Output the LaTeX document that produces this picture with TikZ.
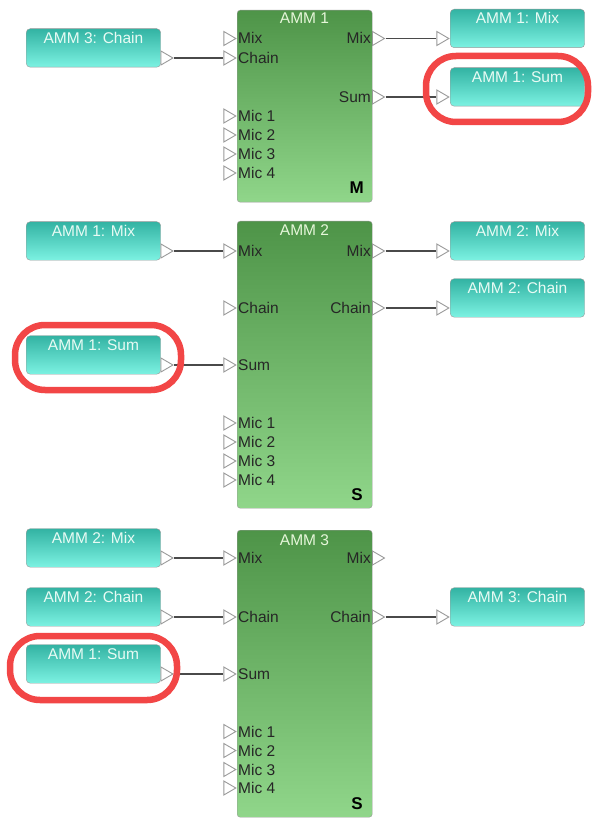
\documentclass[tikz,border=0pt]{standalone}
\usepackage{fontspec}
\setmainfont{Liberation Sans}
\usetikzlibrary{shapes.geometric}

\definecolor{ammtop}{HTML}{4E9448}
\definecolor{ammbot}{HTML}{90D68A}
\definecolor{ammtxt}{HTML}{E6F6DA}
\definecolor{srctop}{HTML}{33B3A3}
\definecolor{srcbot}{HTML}{7CF2E2}
\definecolor{srctxt}{HTML}{E8FBF4}
\definecolor{ringred}{HTML}{F24646}
\definecolor{portgray}{HTML}{9A9A9A}
\definecolor{wiregray}{HTML}{4A4A4A}

\newcommand*{\blkL}{237}
\newcommand*{\blkR}{372}
\newcommand*{\srcL}{26}
\newcommand*{\srcR}{160.5}
\newcommand*{\dstL}{450}

\begin{document}
\begin{tikzpicture}
[
	x=1pt, y=-1pt,
	font=\fontsize{15.5}{18}\selectfont,
	amm/.style={draw=portgray, rounded corners=3pt, top color=ammtop, bottom color=ammbot, minimum width=135pt, anchor=north west, inner sep=0pt},
	ammtitle/.style={text=ammtxt, anchor=base, inner sep=0pt},
	ammrole/.style={font=\fontsize{17}{18}\selectfont\bfseries, anchor=base east, inner sep=0pt},
	portlbl/.style={text=black!85, inner sep=0pt},
	inport/.style={isosceles triangle, isosceles triangle stretches, shape border rotate=0, minimum width=14pt, minimum height=12pt, inner sep=0pt, draw=portgray, line width=0.9pt, fill=white, anchor=east},
	outport/.style={inport, anchor=west},
	srcbox/.style={draw=portgray, rounded corners=4pt, top color=srctop, bottom color=srcbot, text=srctxt, minimum width=134.5pt, anchor=north west, inner ysep=3pt, text height=11.5pt, text depth=21pt},
	wire/.style={draw=wiregray, line width=1.3pt},
	ring/.style={draw=ringred, line width=6.5pt, rounded corners=30pt}
]
	\useasboundingbox (0,0) rectangle (592,818);

	% AMM 1
	\node[amm, minimum height=192pt] (amm1) at (\blkL,10) {};
	\node[ammtitle] (amm1-title) at (304.5,24) {AMM 1};
	\node[ammrole] (amm1-role) at (364,194) {M};
	\foreach \n/\y/\t in {mix/38.5/Mix, chain/58/Chain, mic1/116/Mic 1, mic2/135/Mic 2, mic3/154/Mic 3, mic4/173/Mic 4} {
		\node[inport] (amm1-in-\n) at (\blkL,\y) {};
		\node[portlbl, anchor=base west] (amm1-lbl-\n) at (\blkL+1,\y+5.5) {\t};
	}
	\foreach \n/\y/\t in {mix/38.5/Mix, sum/97/Sum} {
		\node[outport] (amm1-out-\n) at (\blkR,\y) {};
		\node[portlbl, anchor=base east] (amm1-olbl-\n) at (\blkR-1,\y+5.5) {\t};
	}

	% AMM 2
	\node[amm, minimum height=287pt] (amm2) at (\blkL,221) {};
	\node[ammtitle] (amm2-title) at (304.5,235.5) {AMM 2};
	\node[ammrole] (amm2-role) at (363,500.5) {S};
	\foreach \n/\y/\t in {mix/251/Mix, chain/308/Chain, sum/365/Sum, mic1/423/Mic 1, mic2/442/Mic 2, mic3/461/Mic 3, mic4/480/Mic 4} {
		\node[inport] (amm2-in-\n) at (\blkL,\y) {};
		\node[portlbl, anchor=base west] (amm2-lbl-\n) at (\blkL+1,\y+5.5) {\t};
	}
	\foreach \n/\y/\t in {mix/251/Mix, chain/308/Chain} {
		\node[outport] (amm2-out-\n) at (\blkR,\y) {};
		\node[portlbl, anchor=base east] (amm2-olbl-\n) at (\blkR-1,\y+5.5) {\t};
	}

	% AMM 3
	\node[amm, minimum height=287pt] (amm3) at (\blkL,530) {};
	\node[ammtitle] (amm3-title) at (304.5,545) {AMM 3};
	\node[ammrole] (amm3-role) at (363,809.5) {S};
	\foreach \n/\y/\t in {mix/558/Mix, chain/617/Chain, sum/674/Sum, mic1/731.5/Mic 1, mic2/750.5/Mic 2, mic3/769.5/Mic 3, mic4/788/Mic 4} {
		\node[inport] (amm3-in-\n) at (\blkL,\y) {};
		\node[portlbl, anchor=base west] (amm3-lbl-\n) at (\blkL+1,\y+5.5) {\t};
	}
	\foreach \n/\y/\t in {mix/558/Mix, chain/617/Chain} {
		\node[outport] (amm3-out-\n) at (\blkR,\y) {};
		\node[portlbl, anchor=base east] (amm3-olbl-\n) at (\blkR-1,\y+5.5) {\t};
	}

	% sources on the left
	\foreach \n/\y/\t in {a/58/AMM 3: Chain, b/251/AMM 1: Mix, c/365/AMM 1: Sum, d/558/AMM 2: Mix, e/617/AMM 2: Chain, f/674/AMM 1: Sum} {
		\node[srcbox] (src-\n) at (\srcL,\y-29.5) {\t};
		\node[outport] (src-\n-out) at (\srcR,\y) {};
	}

	% targets on the right
	\foreach \n/\y/\t in {a/38.5/AMM 1: Mix, b/97/AMM 1: Sum, c/251/AMM 2: Mix, d/308/AMM 2: Chain, e/617/AMM 3: Chain} {
		\node[srcbox] (dst-\n) at (\dstL,\y-29.5) {\t};
		\node[inport] (dst-\n-in) at (\dstL,\y) {};
	}

	% wires
	\draw[wire] (src-a-out.east) -- (amm1-in-chain.west);
	\draw[wire] (amm1-out-mix.east) -- (dst-a-in.west);
	\draw[wire] (amm1-out-sum.east) -- (dst-b-in.west);
	\draw[wire] (src-b-out.east) -- (amm2-in-mix.west);
	\draw[wire] (src-c-out.east) -- (amm2-in-sum.west);
	\draw[wire] (amm2-out-mix.east) -- (dst-c-in.west);
	\draw[wire] (amm2-out-chain.east) -- (dst-d-in.west);
	\draw[wire] (src-d-out.east) -- (amm3-in-mix.west);
	\draw[wire] (src-e-out.east) -- (amm3-in-chain.west);
	\draw[wire] (src-f-out.east) -- (amm3-in-sum.west);
	\draw[wire] (amm3-out-chain.east) -- (dst-e-in.west);

	% highlights
	\draw[ring] (426,56) rectangle (588,122);
	\draw[ring] (15,325) rectangle (181,390);
	\draw[ring] (10,636) rectangle (177,700);

\end{tikzpicture}
\end{document}
